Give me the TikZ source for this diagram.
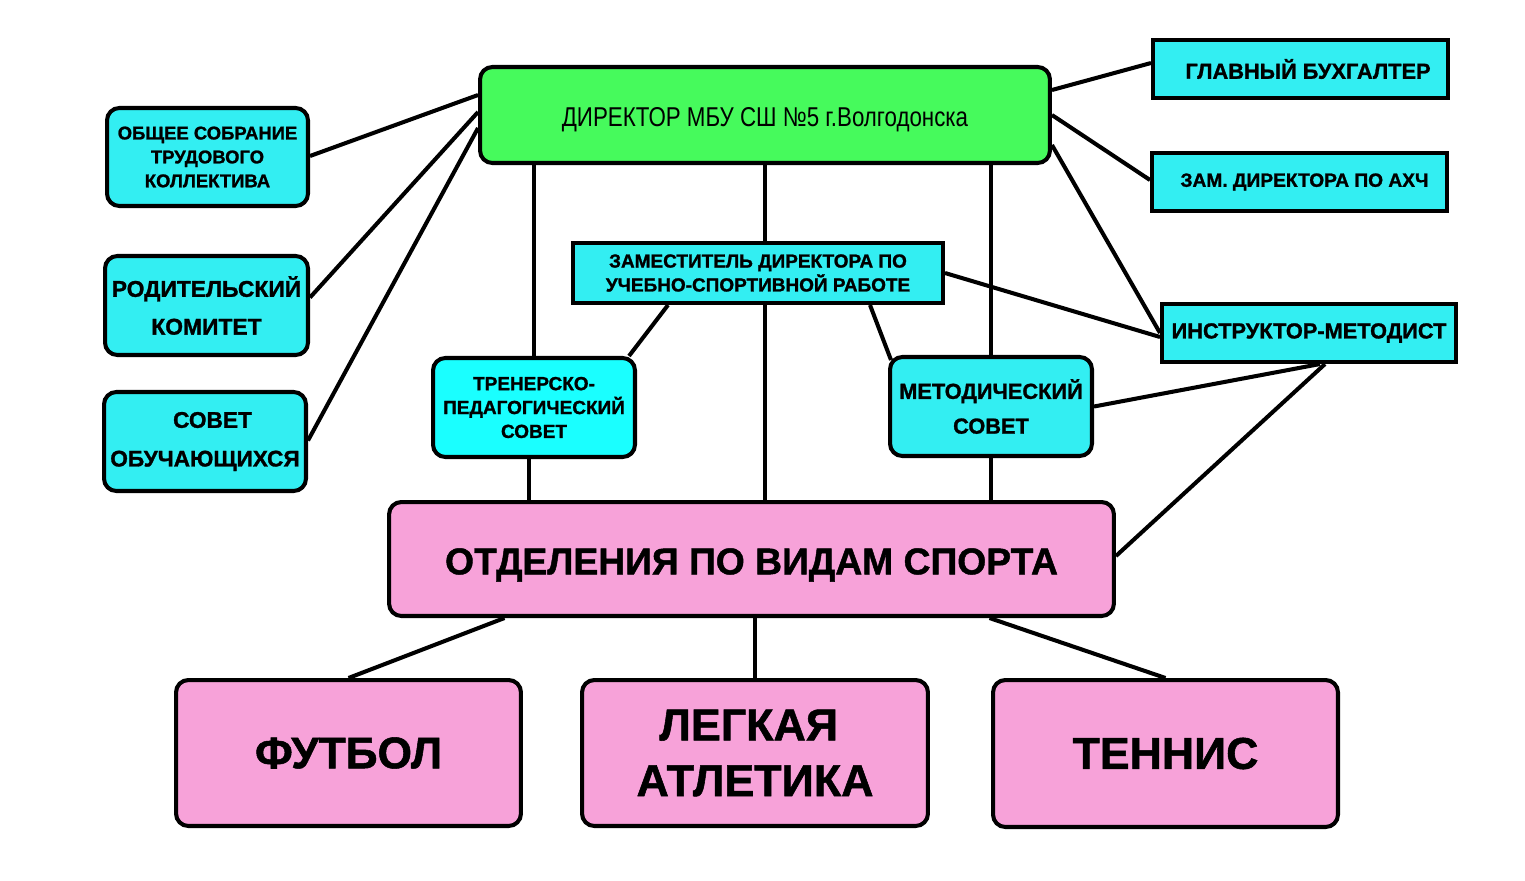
\documentclass[tikz,border=0pt]{standalone}
\usepackage{fontspec}
\setmainfont{Liberation Sans}
\newfontfamily\narrowfont[FakeStretch=0.82]{Liberation Sans}
\newfontfamily\heavyfont[FakeBold=1.2]{Liberation Sans Bold}
\usetikzlibrary{calc}
\definecolor{cyanbox}{HTML}{33EEF2}
\definecolor{cyanlight}{HTML}{1AFFFF}
\definecolor{pinkbox}{HTML}{F7A2D9}
\definecolor{greenbox}{HTML}{46FA5C}
\newcommand{\fsz}[2]{\heavyfont\fontsize{#1}{#2}\selectfont}
\begin{document}
\begin{tikzpicture}[x=0.02cm,y=-0.02cm,line width=2.3pt,
	cbox/.style={draw,fill=cyanbox,rounded corners=7pt,align=center,inner sep=0pt},
	sqbox/.style={draw,fill=cyanbox,align=center,inner sep=0pt},
	pbox/.style={draw,fill=pinkbox,rounded corners=7pt,align=center,inner sep=0pt}]
	\useasboundingbox[fill=white] (0,0) rectangle (1525,880);
	% director
	\node[draw,fill=greenbox,rounded corners=7pt,inner sep=0pt,minimum width=11.4cm,minimum height=1.92cm,font=\narrowfont\fontsize{15.5}{18}\selectfont] (dir) at (765,115) {\raisebox{-6.6pt}[0pt][0pt]{ДИРЕКТОР МБУ СШ №5 г.Волгодонска}};
	% left column
	\node[cbox,minimum width=4.02cm,minimum height=1.96cm,font=\fsz{10.5}{13.6}] (obs) at (207.5,157) {ОБЩЕЕ СОБРАНИЕ\\ТРУДОВОГО\\КОЛЛЕКТИВА};
	\node[cbox,minimum width=4.06cm,minimum height=1.98cm,font=\fsz{13}{21.5}] (rod) at (206.5,305.5) {РОДИТЕЛЬСКИЙ\\КОМИТЕТ};
	\node[cbox,minimum width=4.04cm,minimum height=1.98cm,font=\fsz{12.9}{22}] (sov) at (205,441.5) {\hspace*{0.3cm}СОВЕТ\\ОБУЧАЮЩИХСЯ};
	% right column
	\node[sqbox,minimum width=5.9cm,minimum height=1.16cm,font=\fsz{12.4}{13}] (glb) at (1300.5,69) {\hspace*{0.3cm}ГЛАВНЫЙ БУХГАЛТЕР};
	\node[sqbox,minimum width=5.9cm,minimum height=1.16cm,font=\fsz{10.9}{12}] (ahc) at (1299.5,182) {\hspace*{0.2cm}ЗАМ. ДИРЕКТОРА ПО АХЧ};
	\node[sqbox,minimum width=5.88cm,minimum height=1.16cm,font=\fsz{12.4}{14}] (ins) at (1309,333) {ИНСТРУКТОР-МЕТОДИСТ};
	% middle
	\node[sqbox,minimum width=7.4cm,minimum height=1.2cm,font=\fsz{10.8}{13.6}] (zam) at (758,273) {ЗАМЕСТИТЕЛЬ ДИРЕКТОРА ПО\\УЧЕБНО-СПОРТИВНОЙ РАБОТЕ};
	\node[cbox,fill=cyanlight,minimum width=4.04cm,minimum height=1.98cm,font=\fsz{10.8}{13.6}] (tps) at (534,407.5) {ТРЕНЕРСКО-\\ПЕДАГОГИЧЕСКИЙ\\СОВЕТ};
	\node[cbox,minimum width=4.04cm,minimum height=1.98cm,font=\fsz{12.4}{19.8}] (mts) at (991,406.5) {МЕТОДИЧЕСКИЙ\\СОВЕТ};
	% sports
	\node[pbox,minimum width=14.5cm,minimum height=2.28cm,font=\fsz{21.2}{24}] (otd) at (751.5,559) {\raisebox{-8.7pt}[0pt][0pt]{ОТДЕЛЕНИЯ ПО ВИДАМ СПОРТА}};
	\node[pbox,minimum width=6.9cm,minimum height=2.92cm,font=\fsz{25.2}{31.7}] (fut) at (348.5,753) {ФУТБОЛ};
	\node[pbox,minimum width=6.92cm,minimum height=2.92cm,font=\fsz{25.5}{31.7}] (leg) at (755,753) {ЛЕГКАЯ\hspace*{0.25cm}\\АТЛЕТИКА};
	\node[pbox,minimum width=6.9cm,minimum height=2.94cm,font=\fsz{25.4}{31.7}] (ten) at (1165.5,753.5) {ТЕННИС};
	% links from director
	\draw ($(dir.west)+(0,-20)$) -- ($(obs.east)+(0,-1)$);
	\draw ($(dir.west)+(0,-3)$) -- ($(rod.east)+(0,-8)$);
	\draw ($(dir.west)+(0,13)$) -- ($(sov.east)+(0,-1)$);
	\draw ($(dir.east)+(0,-25)$) -- ($(glb.west)+(0,-6)$);
	\draw (dir.east) -- ($(ahc.west)+(0,-2)$);
	\draw ($(dir.east)+(0,30)$) -- (ins.west);
	\draw (dir.south -| tps.north) -- (tps.north);
	\draw (dir.south) -- (dir.south |- zam.north);
	\draw (dir.south -| mts.north) -- (mts.north);
	% links from deputy
	\draw ($(zam.south)+(-90,0)$) -- ($(tps.north east)+(-8,0)$);
	\draw (dir.south |- zam.south) -- (dir.south |- otd.north);
	\draw ($(zam.south)+(112,0)$) -- ($(mts.north west)+(3,5)$);
	\draw (zam.east) -- ($(ins.west)+(0,4)$);
	% instructor
	\draw ($(ins.south)+(11,0)$) -- (mts.east);
	\draw ($(ins.south)+(16,0)$) -- ($(otd.east)+(0,-3)$);
	% councils to departments
	\draw ($(tps.south)+(-5,0)$) -- ($(tps.south |- otd.north)+(-5,0)$);
	\draw (mts.south) -- (mts.south |- otd.north);
	% departments to sports
	\draw ($(otd.south)+(-247,0)$) -- (fut.north);
	\draw (otd.south -| leg.north) -- (leg.north);
	\draw ($(otd.south)+(238,0)$) -- (ten.north);
\end{tikzpicture}
\end{document}
